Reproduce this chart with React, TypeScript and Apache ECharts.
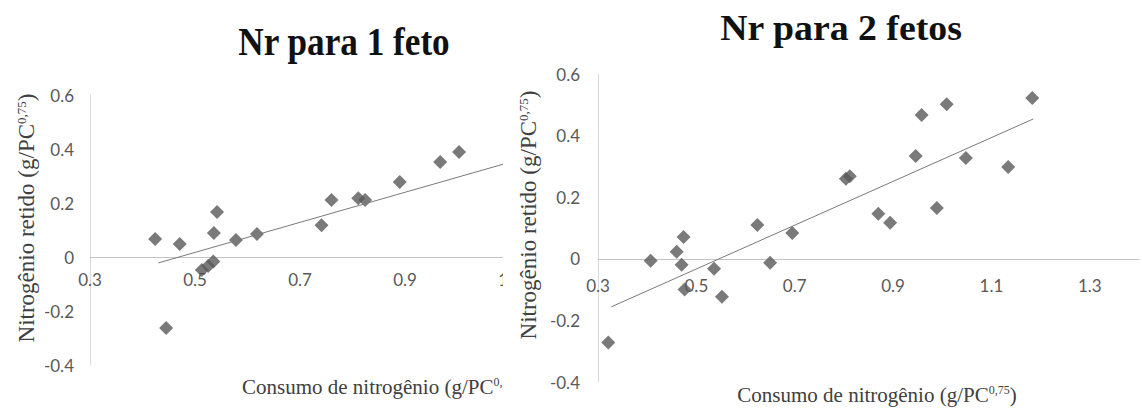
import React, { useEffect, useRef } from "react";
import * as echarts from "echarts";

// Left chart: Nr para 1 feto
const leftX = [0.424, 0.471, 0.445, 0.513, 0.525, 0.535, 0.536, 0.542, 0.578, 0.618, 0.741, 0.76, 0.811, 0.824, 0.89, 0.967, 1.003];
const leftY = [0.067, 0.048, -0.263, -0.048, -0.033, -0.017, 0.089, 0.167, 0.063, 0.085, 0.118, 0.211, 0.218, 0.211, 0.278, 0.352, 0.389];
const leftTrendX = [0.43, 1.1];
const leftTrendY = [-0.022, 0.351];

// Right chart: Nr para 2 fetos
const rightX = [0.321, 0.407, 0.46, 0.474, 0.47, 0.476, 0.536, 0.552, 0.624, 0.65, 0.695, 0.804, 0.812, 0.87, 0.894, 0.946, 0.958, 0.989, 1.009, 1.048, 1.134, 1.183];
const rightY = [-0.272, -0.006, 0.023, 0.071, -0.019, -0.1, -0.032, -0.123, 0.11, -0.013, 0.084, 0.26, 0.268, 0.146, 0.117, 0.334, 0.467, 0.165, 0.502, 0.327, 0.298, 0.522];
const rightTrendX = [0.327, 1.185];
const rightTrendY = [-0.156, 0.454];

const titles = ["Nr para 1 feto", "Nr para 2 fetos"];
const yTitle = "Nitrogênio retido (g/PC";
const xTitle = "Consumo de nitrogênio (g/PC";
const sup = "0,75";

const pairs = (xs: number[], ys: number[]) => xs.map((x, i) => [x, ys[i]]);

const labelFont = { fontFamily: "Lato", fontSize: 17, color: "#595959" };
const serif = "'Liberation Serif', 'Times New Roman', serif";

const richTitle = (main: string) => `{a|${main}}{s|${sup}}{a|)}`;
const makeRich = (size: number) => ({
  a: { fontFamily: serif, fontSize: size, fill: "#404040", lineHeight: size + 3, verticalAlign: "bottom" },
  s: { fontFamily: serif, fontSize: Math.round(size * 0.58), fill: "#404040", lineHeight: size + 3, verticalAlign: "top", padding: [3, 0, 0, 0] },
});
const xRich = makeRich(21);
const yRich = makeRich(23);

export default function App() {
  const ref = useRef<HTMLDivElement>(null);
  useEffect(() => {
    if (!ref.current) return;
    const chart = echarts.init(ref.current, undefined, { renderer: "svg" });
    const xAxisCommon = (min: number, max: number, margin: number, offset: number, gi: number) => ({
      type: "value",
      gridIndex: gi,
      min,
      max,
      interval: 0.1,
      position: "bottom",
      offset,
      axisLine: { show: true, onZero: false, lineStyle: { color: "#c4c4c4", width: 1 } },
      axisTick: { show: false },
      splitLine: { show: false },
      axisLabel: {
        ...labelFont,
        margin,
        formatter: (v: number) => (Math.round(v * 10) % 2 === 1 ? String(Number(v.toFixed(1))) : ""),
      },
    });
    const yAxisCommon = (margin: number, gi: number) => ({
      type: "value",
      gridIndex: gi,
      min: -0.4,
      max: 0.6,
      interval: 0.2,
      axisLine: { show: true, lineStyle: { color: "#d9d9d9", width: 1 } },
      axisTick: { show: false },
      splitLine: { show: false },
      axisLabel: { ...labelFont, margin, formatter: (v: number) => String(Number(v.toFixed(1))) },
    });
    chart.setOption({
      animation: false,
      backgroundColor: "#ffffff",
      grid: [
        { left: 90, top: 95, width: 420, height: 270 },
        { left: 598, top: 74, width: 563, height: 308 },
      ],
      xAxis: [xAxisCommon(0.3, 1.1, 14, -108, 0), xAxisCommon(0.3, 1.4, 18, -123, 1)],
      yAxis: [yAxisCommon(16, 0), yAxisCommon(18, 1)],
      series: [
        {
          type: "scatter",
          xAxisIndex: 0,
          yAxisIndex: 0,
          symbol: "diamond",
          symbolSize: 14,
          itemStyle: { color: "#595959" },
          data: pairs(leftX, leftY),
        },
        {
          type: "line",
          xAxisIndex: 0,
          yAxisIndex: 0,
          showSymbol: false,
          lineStyle: { color: "#7a7a7a", width: 1 },
          data: pairs(leftTrendX, leftTrendY),
        },
        {
          type: "scatter",
          xAxisIndex: 1,
          yAxisIndex: 1,
          symbol: "diamond",
          symbolSize: 14,
          itemStyle: { color: "#595959" },
          data: pairs(rightX, rightY),
        },
        {
          type: "line",
          xAxisIndex: 1,
          yAxisIndex: 1,
          showSymbol: false,
          lineStyle: { color: "#7a7a7a", width: 1 },
          data: pairs(rightTrendX, rightTrendY),
        },
      ],
      graphic: [
        {
          type: "text",
          x: 344,
          y: 41,
          scaleX: 0.88,
          z: 50,
          style: { text: titles[0], x: 0, y: 0, textAlign: "center", textVerticalAlign: "middle", font: `bold 40px ${serif}`, fill: "#111" },
        },
        {
          type: "text",
          x: 841,
          y: 28,
          scaleX: 1.08,
          z: 50,
          style: { text: titles[1], x: 0, y: 0, textAlign: "center", textVerticalAlign: "middle", font: `bold 35px ${serif}`, fill: "#111" },
        },
        {
          type: "text",
          x: 25,
          y: 218,
          rotation: Math.PI / 2,
          z: 50,
          style: { text: richTitle(yTitle), x: 0, y: 0, textAlign: "center", textVerticalAlign: "middle", rich: yRich },
        },
        {
          type: "text",
          x: 242,
          y: 385,
          z: 50,
          style: { text: richTitle(xTitle), x: 0, y: 0, textAlign: "left", textVerticalAlign: "middle", rich: xRich },
        },
        {
          type: "rect",
          z: 100,
          shape: { x: 503, y: 60, width: 44, height: 348 },
          style: { fill: "#ffffff" },
        },
        {
          type: "text",
          x: 527,
          y: 215,
          rotation: Math.PI / 2,
          z: 110,
          style: { text: richTitle(yTitle), x: 0, y: 0, textAlign: "center", textVerticalAlign: "middle", rich: yRich },
        },
        {
          type: "text",
          x: 877,
          y: 393,
          z: 50,
          style: { text: richTitle(xTitle), x: 0, y: 0, textAlign: "center", textVerticalAlign: "middle", rich: xRich },
        },
      ],
    });
    return () => chart.dispose();
  }, []);
  return (
    <div style={{ position: "fixed", left: 0, top: 0, width: 1142, height: 408, background: "#fff" }}>
      <div ref={ref} style={{ width: 1142, height: 408 }} />
    </div>
  );
}
